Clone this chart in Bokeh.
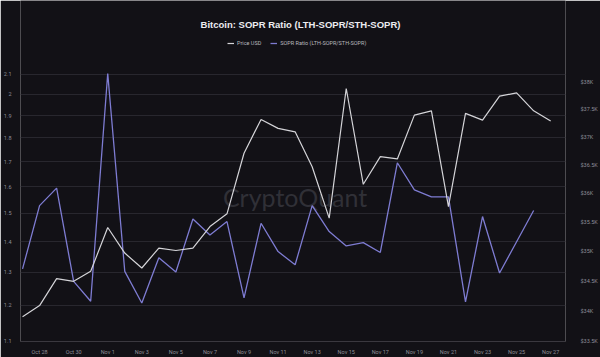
from bokeh.plotting import figure
from bokeh.models import (Range1d, LogScale, LogAxis, FixedTicker, Legend,
                          LegendItem, Label, NumeralTickFormatter)
from bokeh.embed import file_html
from bokeh.resources import INLINE

# ---------------- data ----------------
dates = ["Oct 27", "Oct 28", "Oct 29", "Oct 30", "Oct 31", "Nov 1", "Nov 2", "Nov 3",
         "Nov 4", "Nov 5", "Nov 6", "Nov 7", "Nov 8", "Nov 9", "Nov 10", "Nov 11",
         "Nov 12", "Nov 13", "Nov 14", "Nov 15", "Nov 16", "Nov 17", "Nov 18", "Nov 19",
         "Nov 20", "Nov 21", "Nov 22", "Nov 23", "Nov 24", "Nov 25", "Nov 26", "Nov 27"]

sopr_ratio = [1.311, 1.528, 1.594, 1.272, 1.212, 2.104, 1.303, 1.207, 1.347, 1.301,
              1.479, 1.423, 1.470, 1.222, 1.464, 1.367, 1.324, 1.528, 1.435, 1.386,
              1.397, 1.364, 1.695, 1.587, 1.561, 1.561, 1.210, 1.488, 1.298, 1.400,
              1.510]

price_usd = [33899, 34085, 34534, 34489, 34657, 35403, 34966, 34713, 35051, 35010,
             35051, 35420, 35640, 36704, 37313, 37151, 37089, 36465, 35565, 37878,
             36155, 36643, 36603, 37391, 37469, 35766, 37422, 37301, 37737, 37797,
             37469, 37283]

left_ticks = [1.1, 1.2, 1.3, 1.4, 1.5, 1.6, 1.7, 1.8, 1.9, 2.0, 2.1]
right_ticks = [33500, 34000, 34500, 35000, 35500, 36000, 36500, 37000, 37500, 38000]
right_tick_labels = ["$33.5K", "$34K", "$34.5K", "$35K", "$35.5K", "$36K",
                     "$36.5K", "$37K", "$37.5K", "$38K"]
x_tick_idx = list(range(1, len(dates), 2))

title_text = "Bitcoin: SOPR Ratio (LTH-SOPR/STH-SOPR)"

# ---------------- style ----------------
BG = "#121116"
GRID = "#28272e"
LABEL = "#8e8e96"
BLUE = "#7e7cd2"
WHITE = "#d4d4d8"

x_sopr = list(range(len(sopr_ratio)))
x_price = list(range(len(price_usd)))

# frame spans the full canvas height above the x axis, so the title and
# legend can sit inside it (above the highest grid line)
p = figure(width=600, height=357, y_axis_type="log",
           x_range=Range1d(-0.12, 31.87), y_range=Range1d(1.0995, 2.511),
           output_backend="svg", toolbar_location=None,
           background_fill_color=BG, border_fill_color=BG,
           outline_line_color=None,
           min_border_left=20, min_border_right=32,
           min_border_top=0, min_border_bottom=12)

p.extra_y_ranges = {"price": Range1d(33495, 39533)}
p.extra_y_scales = {"price": LogScale()}

# title (frame-relative screen position)
title = Label(x=280, y=317.5, x_units="screen", y_units="screen", text=title_text,
              text_align="center", text_baseline="middle",
              text_font="Liberation Sans", text_font_size="9.5px",
              text_font_style="bold", text_color="#ececf0")
p.add_layout(title)

# watermark
wm = Label(x=16, y=1.561, text="CryptoQuant", text_align="center",
           text_baseline="middle", text_font="Lato", text_font_size="25px",
           text_color="#303037", level="underlay")
p.add_layout(wm)

# lines
r_sopr = p.line(x_sopr, sopr_ratio, line_color=BLUE, line_width=1.3)
r_price = p.line(x_price, price_usd, line_color=WHITE, line_width=1.2,
                 y_range_name="price")

# left axis
ya = p.yaxis[0]
ya.ticker = FixedTicker(ticks=left_ticks)
ya.formatter = NumeralTickFormatter(format="0.[0]")
p.ygrid.ticker = FixedTicker(ticks=left_ticks)
p.ygrid.grid_line_color = GRID
p.ygrid.grid_line_width = 1
p.xgrid.visible = False

# right axis
ra = LogAxis(y_range_name="price", ticker=FixedTicker(ticks=right_ticks))
ra.major_label_overrides = {t: l for t, l in zip(right_ticks, right_tick_labels)}
p.add_layout(ra, "right")

# x axis
xa = p.xaxis[0]
xa.ticker = FixedTicker(ticks=x_tick_idx)
xa.major_label_overrides = {i: dates[i] for i in x_tick_idx}

for ax in [ya, ra, xa]:
    ax.axis_line_color = None
    ax.major_tick_line_color = None
    ax.minor_tick_line_color = None
    ax.major_label_text_color = LABEL
    ax.major_label_text_font = "Roboto"
    ax.major_label_text_font_size = "5.5px"
ya.major_label_standoff = 3
ra.major_label_standoff = 9
xa.major_label_standoff = 1

# legend
legend = Legend(items=[LegendItem(label="Price USD", renderers=[r_price]),
                       LegendItem(label="SOPR Ratio (LTH-SOPR/STH-SOPR)", renderers=[r_sopr])],
                location=(207, 295), orientation="horizontal",
                background_fill_alpha=0, border_line_color=None,
                label_text_font="Roboto", label_text_font_size="5.5px",
                label_text_color="#b8b8be", glyph_width=7, glyph_height=6,
                spacing=9, padding=0, margin=0, label_standoff=3,
                label_height=6)
p.add_layout(legend)

open("out.html", "w").write(file_html(p, INLINE))
